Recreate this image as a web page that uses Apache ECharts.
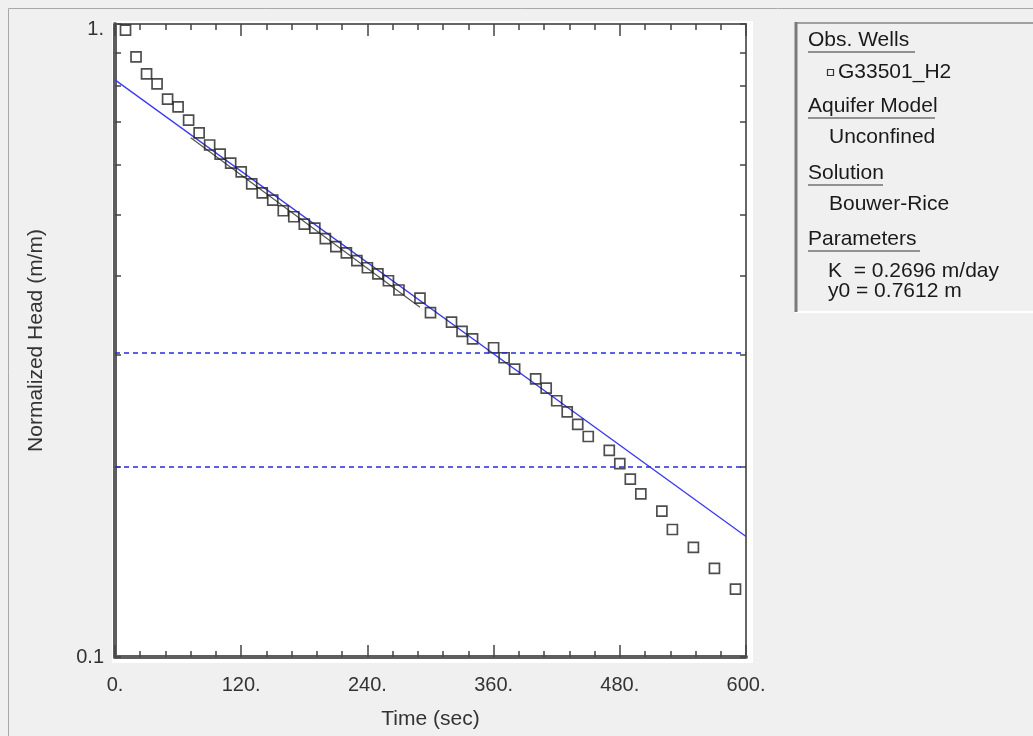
<!DOCTYPE html>
<html>
<head>
<meta charset="utf-8">
<script src="https://cdn.jsdelivr.net/npm/echarts@6/dist/echarts.min.js"></script>
<style>
    html, body {margin: 0; padding: 0; background: #f0f0f0;}
    #slugTestChart {width: 1033px; height: 736px;}
</style>
</head>
<body>
<div id="slugTestChart"></div>
<script>
// observed normalized head vs time, well G33501_H2
var timeSec = [10, 20, 30, 40, 50, 60, 70, 80, 90, 100, 110, 120, 130, 140, 150, 160, 170, 180, 190, 200,
    210, 220, 230, 240, 250, 260, 270, 290, 300, 320, 330, 340, 360, 370, 380, 400, 410, 420, 430, 440,
    450, 470, 480, 490, 500, 520, 530, 550, 570, 590];
var normHead = [0.978, 0.887, 0.834, 0.804, 0.761, 0.740, 0.705, 0.673, 0.644, 0.623, 0.603, 0.584, 0.559, 0.541, 0.527, 0.507, 0.496, 0.483, 0.476, 0.458,
    0.445, 0.435, 0.423, 0.412, 0.403, 0.393, 0.380, 0.369, 0.350, 0.338, 0.327, 0.318, 0.308, 0.297, 0.285, 0.275, 0.266, 0.254, 0.244, 0.233,
    0.223, 0.212, 0.202, 0.191, 0.181, 0.170, 0.159, 0.149, 0.138, 0.128];
// Bouwer-Rice solution line
var fitTime = [0, 600];
var fitHead = [0.816, 0.155];
// matched straight-line segment
var matchTime = [72, 290];
var matchHead = [0.661, 0.357];
// recommended head range (dashed)
var rangeHead = [0.3, 0.2];
// axis ticks
var xTickStep = 120;
var yTickValues = [0.1, 0.2, 0.3, 0.4, 0.5, 0.6, 0.7, 0.8, 0.9, 1];
var yLabelValues = [0.1, 1];
// legend panel
var legendHeaders = ['Obs. Wells', 'Aquifer Model', 'Solution', 'Parameters'];
var legendItems = [['G33501_H2'], ['Unconfined'], ['Bouwer-Rice'], ['K  = 0.2696 m/day', 'y0 = 0.7612 m']];

var FONT = '"Liberation Sans", Arial, sans-serif';
var LOG = function (v) { return Math.log10(v); };

/**
 * 图例面板（右侧）
 */
function buildLegendGraphics() {
    var els = [];
    els.push({type: 'rect', z: -5, shape: {x: 795, y: 22, width: 260, height: 290},
        style: {fill: '#f0f0f0', stroke: null}});
    els.push({type: 'line', shape: {x1: 795, y1: 312, x2: 1040, y2: 312}, style: {stroke: '#ffffff', lineWidth: 2}});
    els.push({type: 'line', shape: {x1: 795, y1: 23, x2: 1040, y2: 23}, style: {stroke: '#a0a0a0', lineWidth: 2}});
    els.push({type: 'line', shape: {x1: 796, y1: 22, x2: 796, y2: 312}, style: {stroke: '#7a7a7a', lineWidth: 3}});
    var headerY = [40, 106, 173, 239];
    var underlineW = [107, 127, 75, 112];
    var itemY = [[72], [137], [204], [271, 291]];
    for (var i = 0; i < legendHeaders.length; i++) {
        els.push({type: 'text', x: 808, y: headerY[i],
            style: {text: legendHeaders[i], fill: '#1a1a1a', font: '21px ' + FONT, verticalAlign: 'middle'}});
        els.push({type: 'line', shape: {x1: 808, y1: headerY[i] + 12, x2: 808 + underlineW[i], y2: headerY[i] + 12},
            style: {stroke: '#333', lineWidth: 1.2}});
        for (var j = 0; j < legendItems[i].length; j++) {
            var ix = (i === 0) ? 838 : (i === 3 ? 828 : 829);
            els.push({type: 'text', x: ix, y: itemY[i][j],
                style: {text: legendItems[i][j], fill: '#1a1a1a', font: '21px ' + FONT, verticalAlign: 'middle'}});
        }
    }
    els.push({type: 'rect', shape: {x: 827.5, y: 69.5, width: 6, height: 6},
        style: {fill: 'none', stroke: '#333', lineWidth: 1.2}});
    return els;
}

function slugTestChart() {
    var myChart = echarts.init(document.getElementById('slugTestChart'));
    var axisTextStyle = {fontSize: 20, color: '#333', fontFamily: FONT};
    var option = {
        animation: false,
        backgroundColor: '#f0f0f0',
        grid: {left: 115, right: 287, top: 24, bottom: 79, show: true, backgroundColor: '#ffffff', borderWidth: 0},
        graphic: [
            {type: 'rect', z: -10, shape: {x: 112, y: 21, width: 641, height: 642}, style: {fill: '#ffffff'}},
            {type: 'rect', z: -10, shape: {x: 8.5, y: 8.5, width: 1100, height: 800}, style: {fill: 'none', stroke: '#a8a8a8', lineWidth: 1}}
        ].concat(buildLegendGraphics()),
        xAxis: [
            {
                type: 'value', position: 'bottom', min: 0, max: 600, interval: xTickStep,
                axisLine: {onZero: false, lineStyle: {color: '#5e5e5e', width: 4}},
                axisTick: {inside: true, length: 12, lineStyle: {color: '#444', width: 1.5}},
                minorTick: {show: true, splitNumber: 5, length: 6, lineStyle: {color: '#444', width: 1.5}},
                axisLabel: Object.assign({margin: 18, formatter: function (v) { return v + '.'; }}, axisTextStyle),
                splitLine: {show: false},
                name: 'Time (sec)', nameLocation: 'middle', nameGap: 52,
                nameTextStyle: {fontSize: 21, color: '#333', fontFamily: FONT}
            },
            {
                type: 'value', position: 'top', min: 0, max: 600, interval: xTickStep,
                axisLine: {onZero: false, lineStyle: {color: '#666', width: 2}},
                axisTick: {inside: true, length: 12, lineStyle: {color: '#444', width: 1.5}},
                minorTick: {show: true, splitNumber: 5, length: 6, lineStyle: {color: '#444', width: 1.5}},
                axisLabel: {show: false},
                splitLine: {show: false}
            }
        ],
        yAxis: [
            {
                type: 'value', position: 'left', min: LOG(0.1), max: LOG(1), interval: 1,
                axisLine: {onZero: false, lineStyle: {color: '#5e5e5e', width: 4}},
                axisTick: {inside: true, length: 6, customValues: yTickValues.map(LOG), lineStyle: {color: '#444', width: 1.5}},
                axisLabel: Object.assign({
                    margin: 11, customValues: yLabelValues.map(LOG),
                    formatter: function (v) { return v >= 0 ? '{top|1.}' : '0.1'; },
                    rich: {top: {fontSize: 20, color: '#333', fontFamily: FONT, padding: [10, 0, 0, 0]}}
                }, axisTextStyle),
                splitLine: {show: false},
                name: 'Normalized Head (m/m)', nameLocation: 'middle', nameGap: 68,
                nameTextStyle: {fontSize: 21, color: '#333', fontFamily: FONT}
            },
            {
                type: 'value', position: 'right', min: LOG(0.1), max: LOG(1), interval: 1,
                axisLine: {onZero: false, lineStyle: {color: '#666', width: 2}},
                axisTick: {inside: true, length: 6, customValues: yTickValues.map(LOG), lineStyle: {color: '#444', width: 1.5}},
                axisLabel: {show: false},
                splitLine: {show: false}
            }
        ],
        series: [
            {
                type: 'line', name: 'solution', xAxisIndex: 0, yAxisIndex: 0,
                data: fitTime.map(function (t, i) { return [t, LOG(fitHead[i])]; }),
                symbol: 'none', lineStyle: {color: '#3a3af0', width: 1.3}, z: 2,
                markLine: {
                    silent: true, symbol: ['none', 'none'], label: {show: false},
                    lineStyle: {color: '#2a2ad8', width: 1.5, type: [5, 4]},
                    data: rangeHead.map(function (h) { return {yAxis: LOG(h)}; })
                }
            },
            {
                type: 'line', name: 'match', xAxisIndex: 0, yAxisIndex: 0,
                data: matchTime.map(function (t, i) { return [t, LOG(matchHead[i])]; }),
                symbol: 'none', lineStyle: {color: '#555', width: 1.2}, z: 2
            },
            {
                type: 'scatter', name: 'G33501_H2', xAxisIndex: 0, yAxisIndex: 0,
                data: timeSec.map(function (t, i) { return [t, LOG(normHead[i])]; }),
                symbol: 'rect', symbolSize: 10,
                itemStyle: {color: 'transparent', borderColor: '#222', borderWidth: 1.7}, z: 3
            }
        ]
    };
    myChart.setOption(option, true);
}

slugTestChart();
</script>
</body>
</html>
